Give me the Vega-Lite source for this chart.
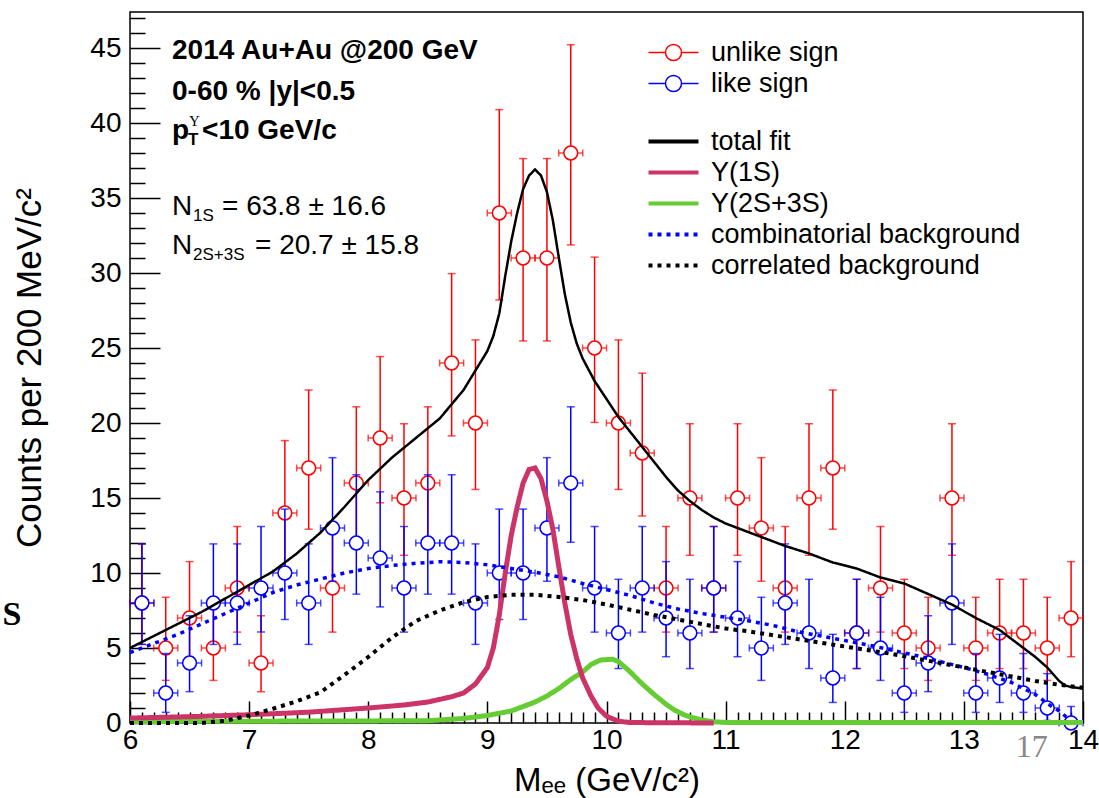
{
  "$schema": "https://vega.github.io/schema/vega-lite/v6.json",
  "width": 953,
  "height": 711,
  "autosize": {"type": "none"},
  "padding": {"left": 130, "top": 12, "right": 16, "bottom": 75},
  "background": "white",
  "config": {
    "view": {"stroke": "black", "strokeWidth": 1.5},
    "font": "Liberation Sans",
    "axis": {"grid": false, "domain": false, "tickColor": "black", "tickWidth": 1.5, "labelColor": "black", "titleColor": "black", "labelFont": "Liberation Sans", "titleFont": "Liberation Sans", "labelFontSize": 28, "titleFontWeight": "normal", "labelOverlap": false, "labelFlush": false, "labelBound": false},
    "legend": {"labelFont": "Liberation Sans", "labelFontSize": 27, "labelColor": "black", "symbolSize": 400, "padding": 0, "rowPadding": 3, "labelOffset": 24, "orient": "none", "labelLimit": 400}
  },
  "datasets": {
    "pts": [
      {"sign": "unlike sign", "m": 6.1, "n": 8, "lo": 5.24, "hi": 11.94},
      {"sign": "unlike sign", "m": 6.3, "n": 5, "lo": 2.84, "hi": 8.38},
      {"sign": "unlike sign", "m": 6.5, "n": 7, "lo": 4.42, "hi": 10.76},
      {"sign": "unlike sign", "m": 6.7, "n": 5, "lo": 2.84, "hi": 8.38},
      {"sign": "unlike sign", "m": 6.9, "n": 9, "lo": 6.06, "hi": 13.10},
      {"sign": "unlike sign", "m": 7.1, "n": 4, "lo": 2.09, "hi": 7.15},
      {"sign": "unlike sign", "m": 7.3, "n": 14, "lo": 10.31, "hi": 18.83},
      {"sign": "unlike sign", "m": 7.5, "n": 17, "lo": 12.92, "hi": 22.20},
      {"sign": "unlike sign", "m": 7.7, "n": 9, "lo": 6.06, "hi": 13.10},
      {"sign": "unlike sign", "m": 7.9, "n": 16, "lo": 12.05, "hi": 21.08},
      {"sign": "unlike sign", "m": 8.1, "n": 19, "lo": 14.68, "hi": 24.43},
      {"sign": "unlike sign", "m": 8.3, "n": 15, "lo": 11.18, "hi": 19.95},
      {"sign": "unlike sign", "m": 8.5, "n": 16, "lo": 12.05, "hi": 21.08},
      {"sign": "unlike sign", "m": 8.7, "n": 24, "lo": 19.14, "hi": 29.96},
      {"sign": "unlike sign", "m": 8.9, "n": 20, "lo": 15.57, "hi": 25.54},
      {"sign": "unlike sign", "m": 9.1, "n": 34, "lo": 28.20, "hi": 40.89},
      {"sign": "unlike sign", "m": 9.3, "n": 31, "lo": 25.47, "hi": 37.63},
      {"sign": "unlike sign", "m": 9.5, "n": 31, "lo": 25.47, "hi": 37.63},
      {"sign": "unlike sign", "m": 9.7, "n": 38, "lo": 31.87, "hi": 45.22},
      {"sign": "unlike sign", "m": 9.9, "n": 25, "lo": 20.04, "hi": 31.06},
      {"sign": "unlike sign", "m": 10.1, "n": 20, "lo": 15.57, "hi": 25.54},
      {"sign": "unlike sign", "m": 10.3, "n": 18, "lo": 13.80, "hi": 23.32},
      {"sign": "unlike sign", "m": 10.5, "n": 9, "lo": 6.06, "hi": 13.10},
      {"sign": "unlike sign", "m": 10.7, "n": 15, "lo": 11.18, "hi": 19.95},
      {"sign": "unlike sign", "m": 10.9, "n": 9, "lo": 6.06, "hi": 13.10},
      {"sign": "unlike sign", "m": 11.1, "n": 15, "lo": 11.18, "hi": 19.95},
      {"sign": "unlike sign", "m": 11.3, "n": 13, "lo": 9.45, "hi": 17.69},
      {"sign": "unlike sign", "m": 11.5, "n": 9, "lo": 6.06, "hi": 13.10},
      {"sign": "unlike sign", "m": 11.7, "n": 15, "lo": 11.18, "hi": 19.95},
      {"sign": "unlike sign", "m": 11.9, "n": 17, "lo": 12.92, "hi": 22.20},
      {"sign": "unlike sign", "m": 12.1, "n": 6, "lo": 3.63, "hi": 9.58},
      {"sign": "unlike sign", "m": 12.3, "n": 9, "lo": 6.06, "hi": 13.10},
      {"sign": "unlike sign", "m": 12.5, "n": 6, "lo": 3.63, "hi": 9.58},
      {"sign": "unlike sign", "m": 12.7, "n": 5, "lo": 2.84, "hi": 8.38},
      {"sign": "unlike sign", "m": 12.9, "n": 15, "lo": 11.18, "hi": 19.95},
      {"sign": "unlike sign", "m": 13.1, "n": 5, "lo": 2.84, "hi": 8.38},
      {"sign": "unlike sign", "m": 13.3, "n": 6, "lo": 3.63, "hi": 9.58},
      {"sign": "unlike sign", "m": 13.5, "n": 6, "lo": 3.63, "hi": 9.58},
      {"sign": "unlike sign", "m": 13.7, "n": 5, "lo": 2.84, "hi": 8.38},
      {"sign": "unlike sign", "m": 13.9, "n": 7, "lo": 4.42, "hi": 10.76},
      {"sign": "like sign", "m": 6.1, "n": 8, "lo": 5.24, "hi": 11.94},
      {"sign": "like sign", "m": 6.3, "n": 2, "lo": 0.71, "hi": 4.63},
      {"sign": "like sign", "m": 6.5, "n": 4, "lo": 2.09, "hi": 7.15},
      {"sign": "like sign", "m": 6.7, "n": 8, "lo": 5.24, "hi": 11.94},
      {"sign": "like sign", "m": 6.9, "n": 8, "lo": 5.24, "hi": 11.94},
      {"sign": "like sign", "m": 7.1, "n": 9, "lo": 6.06, "hi": 13.10},
      {"sign": "like sign", "m": 7.3, "n": 10, "lo": 6.90, "hi": 14.26},
      {"sign": "like sign", "m": 7.5, "n": 8, "lo": 5.24, "hi": 11.94},
      {"sign": "like sign", "m": 7.7, "n": 13, "lo": 9.45, "hi": 17.69},
      {"sign": "like sign", "m": 7.9, "n": 12, "lo": 8.59, "hi": 16.55},
      {"sign": "like sign", "m": 8.1, "n": 11, "lo": 7.74, "hi": 15.41},
      {"sign": "like sign", "m": 8.3, "n": 9, "lo": 6.06, "hi": 13.10},
      {"sign": "like sign", "m": 8.5, "n": 12, "lo": 8.59, "hi": 16.55},
      {"sign": "like sign", "m": 8.7, "n": 12, "lo": 8.59, "hi": 16.55},
      {"sign": "like sign", "m": 8.9, "n": 8, "lo": 5.24, "hi": 11.94},
      {"sign": "like sign", "m": 9.1, "n": 10, "lo": 6.90, "hi": 14.26},
      {"sign": "like sign", "m": 9.3, "n": 10, "lo": 6.90, "hi": 14.26},
      {"sign": "like sign", "m": 9.5, "n": 13, "lo": 9.45, "hi": 17.69},
      {"sign": "like sign", "m": 9.7, "n": 16, "lo": 12.05, "hi": 21.08},
      {"sign": "like sign", "m": 9.9, "n": 9, "lo": 6.06, "hi": 13.10},
      {"sign": "like sign", "m": 10.1, "n": 6, "lo": 3.63, "hi": 9.58},
      {"sign": "like sign", "m": 10.3, "n": 9, "lo": 6.06, "hi": 13.10},
      {"sign": "like sign", "m": 10.5, "n": 7, "lo": 4.42, "hi": 10.76},
      {"sign": "like sign", "m": 10.7, "n": 6, "lo": 3.63, "hi": 9.58},
      {"sign": "like sign", "m": 10.9, "n": 9, "lo": 6.06, "hi": 13.10},
      {"sign": "like sign", "m": 11.1, "n": 7, "lo": 4.42, "hi": 10.76},
      {"sign": "like sign", "m": 11.3, "n": 5, "lo": 2.84, "hi": 8.38},
      {"sign": "like sign", "m": 11.5, "n": 8, "lo": 5.24, "hi": 11.94},
      {"sign": "like sign", "m": 11.7, "n": 6, "lo": 3.63, "hi": 9.58},
      {"sign": "like sign", "m": 11.9, "n": 3, "lo": 1.37, "hi": 5.91},
      {"sign": "like sign", "m": 12.1, "n": 6, "lo": 3.63, "hi": 9.58},
      {"sign": "like sign", "m": 12.3, "n": 5, "lo": 2.84, "hi": 8.38},
      {"sign": "like sign", "m": 12.5, "n": 2, "lo": 0.71, "hi": 4.63},
      {"sign": "like sign", "m": 12.7, "n": 4, "lo": 2.09, "hi": 7.15},
      {"sign": "like sign", "m": 12.9, "n": 8, "lo": 5.24, "hi": 11.94},
      {"sign": "like sign", "m": 13.1, "n": 2, "lo": 0.71, "hi": 4.63},
      {"sign": "like sign", "m": 13.3, "n": 3, "lo": 1.37, "hi": 5.91},
      {"sign": "like sign", "m": 13.5, "n": 2, "lo": 0.71, "hi": 4.63},
      {"sign": "like sign", "m": 13.7, "n": 1, "lo": 0.17, "hi": 3.29},
      {"sign": "like sign", "m": 13.9, "n": 0, "lo": 0, "hi": 1.1}
    ],
    "curves": [
      {"curve": "total fit", "m": 6.0, "n": 5.0}, {"curve": "total fit", "m": 6.2, "n": 5.8}, {"curve": "total fit", "m": 6.4, "n": 6.6}, {"curve": "total fit", "m": 6.6, "n": 7.4}, {"curve": "total fit", "m": 6.8, "n": 8.3}, {"curve": "total fit", "m": 7.0, "n": 9.2}, {"curve": "total fit", "m": 7.2, "n": 10.1}, {"curve": "total fit", "m": 7.4, "n": 11.3}, {"curve": "total fit", "m": 7.6, "n": 12.7}, {"curve": "total fit", "m": 7.8, "n": 14.4}, {"curve": "total fit", "m": 8.0, "n": 16.2}, {"curve": "total fit", "m": 8.2, "n": 17.7}, {"curve": "total fit", "m": 8.4, "n": 19.0}, {"curve": "total fit", "m": 8.6, "n": 20.3}, {"curve": "total fit", "m": 8.8, "n": 22.2}, {"curve": "total fit", "m": 8.9, "n": 23.5}, {"curve": "total fit", "m": 9.0, "n": 24.8}, {"curve": "total fit", "m": 9.05, "n": 25.8}, {"curve": "total fit", "m": 9.1, "n": 27.3}, {"curve": "total fit", "m": 9.15, "n": 29.8}, {"curve": "total fit", "m": 9.2, "n": 32.1}, {"curve": "total fit", "m": 9.25, "n": 34.0}, {"curve": "total fit", "m": 9.3, "n": 35.6}, {"curve": "total fit", "m": 9.35, "n": 36.5}, {"curve": "total fit", "m": 9.4, "n": 36.9}, {"curve": "total fit", "m": 9.45, "n": 36.5}, {"curve": "total fit", "m": 9.5, "n": 35.4}, {"curve": "total fit", "m": 9.55, "n": 33.5}, {"curve": "total fit", "m": 9.6, "n": 31.0}, {"curve": "total fit", "m": 9.65, "n": 28.6}, {"curve": "total fit", "m": 9.7, "n": 26.7}, {"curve": "total fit", "m": 9.75, "n": 25.3}, {"curve": "total fit", "m": 9.8, "n": 24.3}, {"curve": "total fit", "m": 9.9, "n": 22.8}, {"curve": "total fit", "m": 10.0, "n": 21.6}, {"curve": "total fit", "m": 10.1, "n": 20.4}, {"curve": "total fit", "m": 10.2, "n": 19.4}, {"curve": "total fit", "m": 10.3, "n": 18.4}, {"curve": "total fit", "m": 10.4, "n": 17.4}, {"curve": "total fit", "m": 10.5, "n": 16.4}, {"curve": "total fit", "m": 10.6, "n": 15.5}, {"curve": "total fit", "m": 10.7, "n": 14.8}, {"curve": "total fit", "m": 10.8, "n": 14.2}, {"curve": "total fit", "m": 10.9, "n": 13.7}, {"curve": "total fit", "m": 11.0, "n": 13.3}, {"curve": "total fit", "m": 11.1, "n": 13.0}, {"curve": "total fit", "m": 11.3, "n": 12.4}, {"curve": "total fit", "m": 11.5, "n": 11.8}, {"curve": "total fit", "m": 11.7, "n": 11.3}, {"curve": "total fit", "m": 11.9, "n": 10.7}, {"curve": "total fit", "m": 12.1, "n": 10.3}, {"curve": "total fit", "m": 12.3, "n": 9.7}, {"curve": "total fit", "m": 12.5, "n": 9.3}, {"curve": "total fit", "m": 12.7, "n": 8.6}, {"curve": "total fit", "m": 12.9, "n": 7.9}, {"curve": "total fit", "m": 13.1, "n": 7.0}, {"curve": "total fit", "m": 13.3, "n": 6.2}, {"curve": "total fit", "m": 13.5, "n": 5.0}, {"curve": "total fit", "m": 13.6, "n": 4.4}, {"curve": "total fit", "m": 13.7, "n": 3.7}, {"curve": "total fit", "m": 13.8, "n": 2.8}, {"curve": "total fit", "m": 13.85, "n": 2.5}, {"curve": "total fit", "m": 13.9, "n": 2.4}, {"curve": "total fit", "m": 14.0, "n": 2.3},
      {"curve": "Υ(1S)", "m": 6.0, "n": 0.33}, {"curve": "Υ(1S)", "m": 6.5, "n": 0.42}, {"curve": "Υ(1S)", "m": 7.0, "n": 0.55}, {"curve": "Υ(1S)", "m": 7.5, "n": 0.72}, {"curve": "Υ(1S)", "m": 8.0, "n": 1.0}, {"curve": "Υ(1S)", "m": 8.3, "n": 1.2}, {"curve": "Υ(1S)", "m": 8.5, "n": 1.4}, {"curve": "Υ(1S)", "m": 8.7, "n": 1.75}, {"curve": "Υ(1S)", "m": 8.8, "n": 2.0}, {"curve": "Υ(1S)", "m": 8.9, "n": 2.6}, {"curve": "Υ(1S)", "m": 9.0, "n": 3.7}, {"curve": "Υ(1S)", "m": 9.05, "n": 5.0}, {"curve": "Υ(1S)", "m": 9.1, "n": 7.2}, {"curve": "Υ(1S)", "m": 9.15, "n": 10.0}, {"curve": "Υ(1S)", "m": 9.2, "n": 12.5}, {"curve": "Υ(1S)", "m": 9.25, "n": 14.4}, {"curve": "Υ(1S)", "m": 9.3, "n": 16.0}, {"curve": "Υ(1S)", "m": 9.35, "n": 16.9}, {"curve": "Υ(1S)", "m": 9.4, "n": 17.0}, {"curve": "Υ(1S)", "m": 9.45, "n": 16.3}, {"curve": "Υ(1S)", "m": 9.5, "n": 14.8}, {"curve": "Υ(1S)", "m": 9.55, "n": 12.9}, {"curve": "Υ(1S)", "m": 9.6, "n": 10.4}, {"curve": "Υ(1S)", "m": 9.65, "n": 8.0}, {"curve": "Υ(1S)", "m": 9.7, "n": 5.9}, {"curve": "Υ(1S)", "m": 9.75, "n": 4.3}, {"curve": "Υ(1S)", "m": 9.8, "n": 3.0}, {"curve": "Υ(1S)", "m": 9.87, "n": 1.8}, {"curve": "Υ(1S)", "m": 9.93, "n": 1.0}, {"curve": "Υ(1S)", "m": 10.0, "n": 0.45}, {"curve": "Υ(1S)", "m": 10.1, "n": 0.12}, {"curve": "Υ(1S)", "m": 10.2, "n": 0.03}, {"curve": "Υ(1S)", "m": 10.9, "n": 0.0},
      {"curve": "Υ(2S+3S)", "m": 6.0, "n": 0.1}, {"curve": "Υ(2S+3S)", "m": 8.5, "n": 0.15}, {"curve": "Υ(2S+3S)", "m": 8.8, "n": 0.3}, {"curve": "Υ(2S+3S)", "m": 9.0, "n": 0.5}, {"curve": "Υ(2S+3S)", "m": 9.2, "n": 0.8}, {"curve": "Υ(2S+3S)", "m": 9.4, "n": 1.4}, {"curve": "Υ(2S+3S)", "m": 9.5, "n": 1.8}, {"curve": "Υ(2S+3S)", "m": 9.6, "n": 2.3}, {"curve": "Υ(2S+3S)", "m": 9.7, "n": 2.9}, {"curve": "Υ(2S+3S)", "m": 9.8, "n": 3.4}, {"curve": "Υ(2S+3S)", "m": 9.87, "n": 3.9}, {"curve": "Υ(2S+3S)", "m": 9.95, "n": 4.2}, {"curve": "Υ(2S+3S)", "m": 10.05, "n": 4.25}, {"curve": "Υ(2S+3S)", "m": 10.1, "n": 4.1}, {"curve": "Υ(2S+3S)", "m": 10.15, "n": 3.75}, {"curve": "Υ(2S+3S)", "m": 10.2, "n": 3.4}, {"curve": "Υ(2S+3S)", "m": 10.3, "n": 2.6}, {"curve": "Υ(2S+3S)", "m": 10.4, "n": 1.9}, {"curve": "Υ(2S+3S)", "m": 10.5, "n": 1.25}, {"curve": "Υ(2S+3S)", "m": 10.57, "n": 0.87}, {"curve": "Υ(2S+3S)", "m": 10.65, "n": 0.55}, {"curve": "Υ(2S+3S)", "m": 10.71, "n": 0.38}, {"curve": "Υ(2S+3S)", "m": 10.8, "n": 0.2}, {"curve": "Υ(2S+3S)", "m": 10.9, "n": 0.08}, {"curve": "Υ(2S+3S)", "m": 11.0, "n": 0.04}, {"curve": "Υ(2S+3S)", "m": 14.0, "n": 0.04},
      {"curve": "combinatorial background", "m": 6.0, "n": 4.7}, {"curve": "combinatorial background", "m": 6.2, "n": 5.3}, {"curve": "combinatorial background", "m": 6.4, "n": 5.9}, {"curve": "combinatorial background", "m": 6.6, "n": 6.6}, {"curve": "combinatorial background", "m": 6.8, "n": 7.3}, {"curve": "combinatorial background", "m": 7.0, "n": 8.0}, {"curve": "combinatorial background", "m": 7.2, "n": 8.7}, {"curve": "combinatorial background", "m": 7.4, "n": 9.2}, {"curve": "combinatorial background", "m": 7.6, "n": 9.6}, {"curve": "combinatorial background", "m": 7.8, "n": 10.0}, {"curve": "combinatorial background", "m": 8.0, "n": 10.3}, {"curve": "combinatorial background", "m": 8.2, "n": 10.5}, {"curve": "combinatorial background", "m": 8.4, "n": 10.65}, {"curve": "combinatorial background", "m": 8.6, "n": 10.75}, {"curve": "combinatorial background", "m": 8.8, "n": 10.7}, {"curve": "combinatorial background", "m": 9.0, "n": 10.55}, {"curve": "combinatorial background", "m": 9.2, "n": 10.3}, {"curve": "combinatorial background", "m": 9.4, "n": 10.05}, {"curve": "combinatorial background", "m": 9.6, "n": 9.75}, {"curve": "combinatorial background", "m": 9.8, "n": 9.3}, {"curve": "combinatorial background", "m": 10.0, "n": 8.9}, {"curve": "combinatorial background", "m": 10.2, "n": 8.5}, {"curve": "combinatorial background", "m": 10.4, "n": 8.0}, {"curve": "combinatorial background", "m": 10.6, "n": 7.6}, {"curve": "combinatorial background", "m": 10.8, "n": 7.3}, {"curve": "combinatorial background", "m": 11.0, "n": 7.05}, {"curve": "combinatorial background", "m": 11.2, "n": 6.8}, {"curve": "combinatorial background", "m": 11.4, "n": 6.5}, {"curve": "combinatorial background", "m": 11.6, "n": 6.1}, {"curve": "combinatorial background", "m": 11.8, "n": 5.8}, {"curve": "combinatorial background", "m": 12.0, "n": 5.5}, {"curve": "combinatorial background", "m": 12.2, "n": 5.2}, {"curve": "combinatorial background", "m": 12.4, "n": 4.85}, {"curve": "combinatorial background", "m": 12.6, "n": 4.5}, {"curve": "combinatorial background", "m": 12.8, "n": 4.1}, {"curve": "combinatorial background", "m": 13.0, "n": 3.7}, {"curve": "combinatorial background", "m": 13.2, "n": 3.25}, {"curve": "combinatorial background", "m": 13.4, "n": 2.7}, {"curve": "combinatorial background", "m": 13.6, "n": 1.9}, {"curve": "combinatorial background", "m": 13.7, "n": 1.3}, {"curve": "combinatorial background", "m": 13.8, "n": 0.8}, {"curve": "combinatorial background", "m": 13.86, "n": 0.4},
      {"curve": "correlated background", "m": 6.0, "n": 0.0}, {"curve": "correlated background", "m": 6.6, "n": 0.0}, {"curve": "correlated background", "m": 6.8, "n": 0.15}, {"curve": "correlated background", "m": 7.0, "n": 0.5}, {"curve": "correlated background", "m": 7.2, "n": 0.95}, {"curve": "correlated background", "m": 7.4, "n": 1.45}, {"curve": "correlated background", "m": 7.6, "n": 2.05}, {"curve": "correlated background", "m": 7.8, "n": 3.2}, {"curve": "correlated background", "m": 8.0, "n": 4.4}, {"curve": "correlated background", "m": 8.2, "n": 5.7}, {"curve": "correlated background", "m": 8.4, "n": 6.8}, {"curve": "correlated background", "m": 8.6, "n": 7.5}, {"curve": "correlated background", "m": 8.8, "n": 8.05}, {"curve": "correlated background", "m": 9.0, "n": 8.4}, {"curve": "correlated background", "m": 9.2, "n": 8.55}, {"curve": "correlated background", "m": 9.4, "n": 8.55}, {"curve": "correlated background", "m": 9.6, "n": 8.4}, {"curve": "correlated background", "m": 9.8, "n": 8.2}, {"curve": "correlated background", "m": 10.0, "n": 7.9}, {"curve": "correlated background", "m": 10.2, "n": 7.55}, {"curve": "correlated background", "m": 10.4, "n": 7.2}, {"curve": "correlated background", "m": 10.6, "n": 6.9}, {"curve": "correlated background", "m": 10.8, "n": 6.6}, {"curve": "correlated background", "m": 11.0, "n": 6.3}, {"curve": "correlated background", "m": 11.2, "n": 6.1}, {"curve": "correlated background", "m": 11.4, "n": 5.85}, {"curve": "correlated background", "m": 11.6, "n": 5.6}, {"curve": "correlated background", "m": 11.8, "n": 5.35}, {"curve": "correlated background", "m": 12.0, "n": 5.1}, {"curve": "correlated background", "m": 12.2, "n": 4.85}, {"curve": "correlated background", "m": 12.4, "n": 4.6}, {"curve": "correlated background", "m": 12.6, "n": 4.3}, {"curve": "correlated background", "m": 12.8, "n": 4.0}, {"curve": "correlated background", "m": 13.0, "n": 3.7}, {"curve": "correlated background", "m": 13.2, "n": 3.4}, {"curve": "correlated background", "m": 13.4, "n": 3.1}, {"curve": "correlated background", "m": 13.6, "n": 2.8}, {"curve": "correlated background", "m": 13.8, "n": 2.55}, {"curve": "correlated background", "m": 14.0, "n": 2.35}
    ],
    "one": [{"k": 1}]
  },
  "layer": [
    {
      "encoding": {
        "x": {"field": "m", "type": "quantitative", "scale": {"domain": [6, 14], "nice": false, "zero": false},
          "axis": {"values": [6,6.1,6.2,6.3,6.4,6.5,6.6,6.7,6.8,6.9,7,7.1,7.2,7.3,7.4,7.5,7.6,7.7,7.8,7.9,8,8.1,8.2,8.3,8.4,8.5,8.6,8.7,8.8,8.9,9,9.1,9.2,9.3,9.4,9.5,9.6,9.7,9.8,9.9,10,10.1,10.2,10.3,10.4,10.5,10.6,10.7,10.8,10.9,11,11.1,11.2,11.3,11.4,11.5,11.6,11.7,11.8,11.9,12,12.1,12.2,12.3,12.4,12.5,12.6,12.7,12.8,12.9,13,13.1,13.2,13.3,13.4,13.5,13.6,13.7,13.8,13.9,14], "tickSize": {"condition": {"test": "abs(datum.value - round(datum.value)) < 0.001", "value": -22}, "value": -11}, "labelExpr": "abs(datum.value - round(datum.value)) < 0.001 ? '' + round(datum.value) : ''", "labelPadding": 25, "title": "Mₑₑ (GeV/c²)", "titleFontSize": 33, "titleY": 67, "titleBaseline": "alphabetic"}},
        "y": {"field": "n", "type": "quantitative", "scale": {"domain": [0, 47.4], "nice": false, "zero": false},
          "axis": {"values": [0,1,2,3,4,5,6,7,8,9,10,11,12,13,14,15,16,17,18,19,20,21,22,23,24,25,26,27,28,29,30,31,32,33,34,35,36,37,38,39,40,41,42,43,44,45,46,47], "tickSize": {"condition": {"test": "round(datum.value / 5) * 5 === datum.value", "value": -30}, "value": -15}, "labelExpr": "round(datum.value / 5) * 5 === datum.value ? '' + datum.value : ''", "labelPadding": 39, "title": "Counts per 200 MeV/c²", "titleFontSize": 35, "titleX": -90, "titleBaseline": "alphabetic"}}
      },
      "layer": [
        {"data": {"name": "pts"}, "transform": [{"filter": "datum.sign === 'unlike sign'"}],
         "mark": {"type": "rule", "color": "#ff0000", "strokeWidth": 1.5},
         "encoding": {"y": {"field": "lo", "type": "quantitative", "scale": {"domain": [0, 47.4], "nice": false, "zero": false},
          "axis": {"values": [0,1,2,3,4,5,6,7,8,9,10,11,12,13,14,15,16,17,18,19,20,21,22,23,24,25,26,27,28,29,30,31,32,33,34,35,36,37,38,39,40,41,42,43,44,45,46,47], "tickSize": {"condition": {"test": "round(datum.value / 5) * 5 === datum.value", "value": -30}, "value": -15}, "labelExpr": "round(datum.value / 5) * 5 === datum.value ? '' + datum.value : ''", "labelPadding": 39, "title": "Counts per 200 MeV/c²", "titleFontSize": 35, "titleX": -90, "titleBaseline": "alphabetic"}}, "y2": {"field": "hi"}}},
        {"data": {"name": "pts"}, "transform": [{"filter": "datum.sign === 'unlike sign'"}, {"fold": ["lo", "hi"], "as": ["k", "n"]}],
         "mark": {"type": "tick", "orient": "horizontal", "color": "#ff0000", "size": 8, "thickness": 1.5}},
        {"data": {"name": "pts"}, "transform": [{"filter": "datum.sign === 'unlike sign'"}],
         "mark": {"type": "tick", "orient": "horizontal", "color": "#ff0000", "size": 24, "thickness": 1.5}},
        {"data": {"name": "pts"}, "transform": [{"filter": "datum.sign === 'unlike sign'"}],
         "mark": {"type": "tick", "orient": "vertical", "color": "#ff0000", "size": 7, "thickness": 1.5, "xOffset": -12}},
        {"data": {"name": "pts"}, "transform": [{"filter": "datum.sign === 'unlike sign'"}],
         "mark": {"type": "tick", "orient": "vertical", "color": "#ff0000", "size": 7, "thickness": 1.5, "xOffset": 12}},
        {"data": {"name": "pts"}, "transform": [{"filter": "datum.sign === 'unlike sign'"}],
         "mark": {"type": "point", "shape": "circle", "filled": true, "fill": "white", "strokeWidth": 1.5, "size": 190, "opacity": 1},
         "encoding": {"stroke": {"field": "sign", "type": "nominal", "scale": {"domain": ["unlike sign", "like sign"], "range": ["#ff0000", "#0000ff"]},
           "legend": {"title": null, "legendX": 530, "legendY": 27, "symbolType": "M-2.5,0L-0.8,0M0.8,0L2.5,0M0.8,0A0.8,0.8,0,1,1,-0.8,0A0.8,0.8,0,1,1,0.8,0", "symbolStrokeWidth": 1.5, "symbolFillColor": "transparent"}}}},
        {"data": {"name": "pts"}, "transform": [{"filter": "datum.sign === 'like sign'"}],
         "mark": {"type": "rule", "color": "#0000ff", "strokeWidth": 1.5},
         "encoding": {"y": {"field": "lo", "type": "quantitative", "scale": {"domain": [0, 47.4], "nice": false, "zero": false},
          "axis": {"values": [0,1,2,3,4,5,6,7,8,9,10,11,12,13,14,15,16,17,18,19,20,21,22,23,24,25,26,27,28,29,30,31,32,33,34,35,36,37,38,39,40,41,42,43,44,45,46,47], "tickSize": {"condition": {"test": "round(datum.value / 5) * 5 === datum.value", "value": -30}, "value": -15}, "labelExpr": "round(datum.value / 5) * 5 === datum.value ? '' + datum.value : ''", "labelPadding": 39, "title": "Counts per 200 MeV/c²", "titleFontSize": 35, "titleX": -90, "titleBaseline": "alphabetic"}}, "y2": {"field": "hi"}}},
        {"data": {"name": "pts"}, "transform": [{"filter": "datum.sign === 'like sign'"}, {"fold": ["lo", "hi"], "as": ["k", "n"]}],
         "mark": {"type": "tick", "orient": "horizontal", "color": "#0000ff", "size": 8, "thickness": 1.5}},
        {"data": {"name": "pts"}, "transform": [{"filter": "datum.sign === 'like sign'"}],
         "mark": {"type": "tick", "orient": "horizontal", "color": "#0000ff", "size": 24, "thickness": 1.5}},
        {"data": {"name": "pts"}, "transform": [{"filter": "datum.sign === 'like sign'"}],
         "mark": {"type": "tick", "orient": "vertical", "color": "#0000ff", "size": 7, "thickness": 1.5, "xOffset": -12}},
        {"data": {"name": "pts"}, "transform": [{"filter": "datum.sign === 'like sign'"}],
         "mark": {"type": "tick", "orient": "vertical", "color": "#0000ff", "size": 7, "thickness": 1.5, "xOffset": 12}},
        {"data": {"name": "pts"}, "transform": [{"filter": "datum.sign === 'like sign'"}],
         "mark": {"type": "point", "shape": "circle", "filled": true, "fill": "white", "strokeWidth": 1.5, "size": 190, "opacity": 1},
         "encoding": {"stroke": {"field": "sign", "type": "nominal", "scale": {"domain": ["unlike sign", "like sign"], "range": ["#ff0000", "#0000ff"]},
           "legend": {"title": null, "legendX": 530, "legendY": 27, "symbolType": "M-2.5,0L-0.8,0M0.8,0L2.5,0M0.8,0A0.8,0.8,0,1,1,-0.8,0A0.8,0.8,0,1,1,0.8,0", "symbolStrokeWidth": 1.5, "symbolFillColor": "transparent"}}}},
        {"data": {"name": "curves"}, "transform": [{"filter": "datum.curve === 'Υ(2S+3S)'"}],
         "mark": {"type": "line", "strokeWidth": 5},
         "encoding": {
           "color": {"field": "curve", "type": "nominal", "scale": {"domain": ["total fit", "Υ(1S)", "Υ(2S+3S)", "combinatorial background", "correlated background"], "range": ["#000000", "#cc3366", "#66cc33", "#0000ff", "#000000"]}, "legend": {"title": null, "legendX": 530, "legendY": 116, "symbolType": "M-2.5,0L2.5,0", "symbolStrokeWidth": 4}},
           "strokeDash": {"field": "curve", "type": "nominal", "scale": {"domain": ["total fit", "Υ(1S)", "Υ(2S+3S)", "combinatorial background", "correlated background"], "range": [[1,0],[1,0],[1,0],[4,5],[4,5]]}, "legend": {"title": null, "legendX": 530, "legendY": 116, "symbolType": "M-2.5,0L2.5,0", "symbolStrokeWidth": 4}}}},
        {"data": {"name": "curves"}, "transform": [{"filter": "datum.curve === 'Υ(1S)'"}],
         "mark": {"type": "line", "strokeWidth": 5},
         "encoding": {
           "color": {"field": "curve", "type": "nominal", "scale": {"domain": ["total fit", "Υ(1S)", "Υ(2S+3S)", "combinatorial background", "correlated background"], "range": ["#000000", "#cc3366", "#66cc33", "#0000ff", "#000000"]}, "legend": {"title": null, "legendX": 530, "legendY": 116, "symbolType": "M-2.5,0L2.5,0", "symbolStrokeWidth": 4}},
           "strokeDash": {"field": "curve", "type": "nominal", "scale": {"domain": ["total fit", "Υ(1S)", "Υ(2S+3S)", "combinatorial background", "correlated background"], "range": [[1,0],[1,0],[1,0],[4,5],[4,5]]}, "legend": {"title": null, "legendX": 530, "legendY": 116, "symbolType": "M-2.5,0L2.5,0", "symbolStrokeWidth": 4}}}},
        {"data": {"name": "curves"}, "transform": [{"filter": "datum.curve === 'combinatorial background'"}],
         "mark": {"type": "line", "strokeWidth": 3.5},
         "encoding": {
           "color": {"field": "curve", "type": "nominal", "scale": {"domain": ["total fit", "Υ(1S)", "Υ(2S+3S)", "combinatorial background", "correlated background"], "range": ["#000000", "#cc3366", "#66cc33", "#0000ff", "#000000"]}, "legend": {"title": null, "legendX": 530, "legendY": 116, "symbolType": "M-2.5,0L2.5,0", "symbolStrokeWidth": 4}},
           "strokeDash": {"field": "curve", "type": "nominal", "scale": {"domain": ["total fit", "Υ(1S)", "Υ(2S+3S)", "combinatorial background", "correlated background"], "range": [[1,0],[1,0],[1,0],[4,5],[4,5]]}, "legend": {"title": null, "legendX": 530, "legendY": 116, "symbolType": "M-2.5,0L2.5,0", "symbolStrokeWidth": 4}}}},
        {"data": {"name": "curves"}, "transform": [{"filter": "datum.curve === 'correlated background'"}],
         "mark": {"type": "line", "strokeWidth": 4},
         "encoding": {
           "color": {"field": "curve", "type": "nominal", "scale": {"domain": ["total fit", "Υ(1S)", "Υ(2S+3S)", "combinatorial background", "correlated background"], "range": ["#000000", "#cc3366", "#66cc33", "#0000ff", "#000000"]}, "legend": {"title": null, "legendX": 530, "legendY": 116, "symbolType": "M-2.5,0L2.5,0", "symbolStrokeWidth": 4}},
           "strokeDash": {"field": "curve", "type": "nominal", "scale": {"domain": ["total fit", "Υ(1S)", "Υ(2S+3S)", "combinatorial background", "correlated background"], "range": [[1,0],[1,0],[1,0],[4,5],[4,5]]}, "legend": {"title": null, "legendX": 530, "legendY": 116, "symbolType": "M-2.5,0L2.5,0", "symbolStrokeWidth": 4}}}},
        {"data": {"name": "curves"}, "transform": [{"filter": "datum.curve === 'total fit'"}],
         "mark": {"type": "line", "strokeWidth": 2.5},
         "encoding": {
           "color": {"field": "curve", "type": "nominal", "scale": {"domain": ["total fit", "Υ(1S)", "Υ(2S+3S)", "combinatorial background", "correlated background"], "range": ["#000000", "#cc3366", "#66cc33", "#0000ff", "#000000"]}, "legend": {"title": null, "legendX": 530, "legendY": 116, "symbolType": "M-2.5,0L2.5,0", "symbolStrokeWidth": 4}},
           "strokeDash": {"field": "curve", "type": "nominal", "scale": {"domain": ["total fit", "Υ(1S)", "Υ(2S+3S)", "combinatorial background", "correlated background"], "range": [[1,0],[1,0],[1,0],[4,5],[4,5]]}, "legend": {"title": null, "legendX": 530, "legendY": 116, "symbolType": "M-2.5,0L2.5,0", "symbolStrokeWidth": 4}}}}
      ]
    },
    {
      "data": {"name": "one"},
      "layer": [
        {"mark": {"type": "text", "text": "2014 Au+Au @200 GeV", "font": "Liberation Sans", "fontWeight": "bold", "fontSize": 28, "align": "left", "baseline": "middle"},
         "encoding": {"x": {"datum": 6.353, "type": "quantitative", "scale": {"domain": [6, 14], "nice": false, "zero": false}, "axis": {"values": [6,6.1,6.2,6.3,6.4,6.5,6.6,6.7,6.8,6.9,7,7.1,7.2,7.3,7.4,7.5,7.6,7.7,7.8,7.9,8,8.1,8.2,8.3,8.4,8.5,8.6,8.7,8.8,8.9,9,9.1,9.2,9.3,9.4,9.5,9.6,9.7,9.8,9.9,10,10.1,10.2,10.3,10.4,10.5,10.6,10.7,10.8,10.9,11,11.1,11.2,11.3,11.4,11.5,11.6,11.7,11.8,11.9,12,12.1,12.2,12.3,12.4,12.5,12.6,12.7,12.8,12.9,13,13.1,13.2,13.3,13.4,13.5,13.6,13.7,13.8,13.9,14], "tickSize": {"condition": {"test": "abs(datum.value - round(datum.value)) < 0.001", "value": -22}, "value": -11}, "labelExpr": "abs(datum.value - round(datum.value)) < 0.001 ? '' + round(datum.value) : ''", "labelPadding": 25, "title": "Mₑₑ (GeV/c²)", "titleFontSize": 33, "titleY": 67, "titleBaseline": "alphabetic"}},
           "y": {"datum": 44.8, "type": "quantitative", "scale": {"domain": [0, 47.4], "nice": false, "zero": false}, "axis": {"values": [0,1,2,3,4,5,6,7,8,9,10,11,12,13,14,15,16,17,18,19,20,21,22,23,24,25,26,27,28,29,30,31,32,33,34,35,36,37,38,39,40,41,42,43,44,45,46,47], "tickSize": {"condition": {"test": "round(datum.value / 5) * 5 === datum.value", "value": -30}, "value": -15}, "labelExpr": "round(datum.value / 5) * 5 === datum.value ? '' + datum.value : ''", "labelPadding": 39, "title": "Counts per 200 MeV/c²", "titleFontSize": 35, "titleX": -90, "titleBaseline": "alphabetic"}}}},
        {"mark": {"type": "text", "text": "0-60 % |y|<0.5", "font": "Liberation Sans", "fontWeight": "bold", "fontSize": 28, "align": "left", "baseline": "middle"},
         "encoding": {"x": {"datum": 6.353, "type": "quantitative", "scale": {"domain": [6, 14], "nice": false, "zero": false}, "axis": {"values": [6,6.1,6.2,6.3,6.4,6.5,6.6,6.7,6.8,6.9,7,7.1,7.2,7.3,7.4,7.5,7.6,7.7,7.8,7.9,8,8.1,8.2,8.3,8.4,8.5,8.6,8.7,8.8,8.9,9,9.1,9.2,9.3,9.4,9.5,9.6,9.7,9.8,9.9,10,10.1,10.2,10.3,10.4,10.5,10.6,10.7,10.8,10.9,11,11.1,11.2,11.3,11.4,11.5,11.6,11.7,11.8,11.9,12,12.1,12.2,12.3,12.4,12.5,12.6,12.7,12.8,12.9,13,13.1,13.2,13.3,13.4,13.5,13.6,13.7,13.8,13.9,14], "tickSize": {"condition": {"test": "abs(datum.value - round(datum.value)) < 0.001", "value": -22}, "value": -11}, "labelExpr": "abs(datum.value - round(datum.value)) < 0.001 ? '' + round(datum.value) : ''", "labelPadding": 25, "title": "Mₑₑ (GeV/c²)", "titleFontSize": 33, "titleY": 67, "titleBaseline": "alphabetic"}},
           "y": {"datum": 42.1, "type": "quantitative", "scale": {"domain": [0, 47.4], "nice": false, "zero": false}, "axis": {"values": [0,1,2,3,4,5,6,7,8,9,10,11,12,13,14,15,16,17,18,19,20,21,22,23,24,25,26,27,28,29,30,31,32,33,34,35,36,37,38,39,40,41,42,43,44,45,46,47], "tickSize": {"condition": {"test": "round(datum.value / 5) * 5 === datum.value", "value": -30}, "value": -15}, "labelExpr": "round(datum.value / 5) * 5 === datum.value ? '' + datum.value : ''", "labelPadding": 39, "title": "Counts per 200 MeV/c²", "titleFontSize": 35, "titleX": -90, "titleBaseline": "alphabetic"}}}},
        {"mark": {"type": "text", "text": "p", "font": "Liberation Sans", "fontWeight": "bold", "fontSize": 28, "align": "left", "baseline": "middle"},
         "encoding": {"x": {"datum": 6.353, "type": "quantitative", "scale": {"domain": [6, 14], "nice": false, "zero": false}, "axis": {"values": [6,6.1,6.2,6.3,6.4,6.5,6.6,6.7,6.8,6.9,7,7.1,7.2,7.3,7.4,7.5,7.6,7.7,7.8,7.9,8,8.1,8.2,8.3,8.4,8.5,8.6,8.7,8.8,8.9,9,9.1,9.2,9.3,9.4,9.5,9.6,9.7,9.8,9.9,10,10.1,10.2,10.3,10.4,10.5,10.6,10.7,10.8,10.9,11,11.1,11.2,11.3,11.4,11.5,11.6,11.7,11.8,11.9,12,12.1,12.2,12.3,12.4,12.5,12.6,12.7,12.8,12.9,13,13.1,13.2,13.3,13.4,13.5,13.6,13.7,13.8,13.9,14], "tickSize": {"condition": {"test": "abs(datum.value - round(datum.value)) < 0.001", "value": -22}, "value": -11}, "labelExpr": "abs(datum.value - round(datum.value)) < 0.001 ? '' + round(datum.value) : ''", "labelPadding": 25, "title": "Mₑₑ (GeV/c²)", "titleFontSize": 33, "titleY": 67, "titleBaseline": "alphabetic"}},
           "y": {"datum": 39.5, "type": "quantitative", "scale": {"domain": [0, 47.4], "nice": false, "zero": false}, "axis": {"values": [0,1,2,3,4,5,6,7,8,9,10,11,12,13,14,15,16,17,18,19,20,21,22,23,24,25,26,27,28,29,30,31,32,33,34,35,36,37,38,39,40,41,42,43,44,45,46,47], "tickSize": {"condition": {"test": "round(datum.value / 5) * 5 === datum.value", "value": -30}, "value": -15}, "labelExpr": "round(datum.value / 5) * 5 === datum.value ? '' + datum.value : ''", "labelPadding": 39, "title": "Counts per 200 MeV/c²", "titleFontSize": 35, "titleX": -90, "titleBaseline": "alphabetic"}}}},
        {"mark": {"type": "text", "text": "T", "font": "Liberation Sans", "fontWeight": "bold", "fontSize": 17, "align": "left", "baseline": "middle", "dx": 16, "dy": 9},
         "encoding": {"x": {"datum": 6.353, "type": "quantitative", "scale": {"domain": [6, 14], "nice": false, "zero": false}, "axis": {"values": [6,6.1,6.2,6.3,6.4,6.5,6.6,6.7,6.8,6.9,7,7.1,7.2,7.3,7.4,7.5,7.6,7.7,7.8,7.9,8,8.1,8.2,8.3,8.4,8.5,8.6,8.7,8.8,8.9,9,9.1,9.2,9.3,9.4,9.5,9.6,9.7,9.8,9.9,10,10.1,10.2,10.3,10.4,10.5,10.6,10.7,10.8,10.9,11,11.1,11.2,11.3,11.4,11.5,11.6,11.7,11.8,11.9,12,12.1,12.2,12.3,12.4,12.5,12.6,12.7,12.8,12.9,13,13.1,13.2,13.3,13.4,13.5,13.6,13.7,13.8,13.9,14], "tickSize": {"condition": {"test": "abs(datum.value - round(datum.value)) < 0.001", "value": -22}, "value": -11}, "labelExpr": "abs(datum.value - round(datum.value)) < 0.001 ? '' + round(datum.value) : ''", "labelPadding": 25, "title": "Mₑₑ (GeV/c²)", "titleFontSize": 33, "titleY": 67, "titleBaseline": "alphabetic"}},
           "y": {"datum": 39.5, "type": "quantitative", "scale": {"domain": [0, 47.4], "nice": false, "zero": false}, "axis": {"values": [0,1,2,3,4,5,6,7,8,9,10,11,12,13,14,15,16,17,18,19,20,21,22,23,24,25,26,27,28,29,30,31,32,33,34,35,36,37,38,39,40,41,42,43,44,45,46,47], "tickSize": {"condition": {"test": "round(datum.value / 5) * 5 === datum.value", "value": -30}, "value": -15}, "labelExpr": "round(datum.value / 5) * 5 === datum.value ? '' + datum.value : ''", "labelPadding": 39, "title": "Counts per 200 MeV/c²", "titleFontSize": 35, "titleX": -90, "titleBaseline": "alphabetic"}}}},
        {"mark": {"type": "text", "text": "Υ", "font": "Liberation Serif", "fontSize": 15, "align": "left", "baseline": "middle", "dx": 17, "dy": -10},
         "encoding": {"x": {"datum": 6.353, "type": "quantitative", "scale": {"domain": [6, 14], "nice": false, "zero": false}, "axis": {"values": [6,6.1,6.2,6.3,6.4,6.5,6.6,6.7,6.8,6.9,7,7.1,7.2,7.3,7.4,7.5,7.6,7.7,7.8,7.9,8,8.1,8.2,8.3,8.4,8.5,8.6,8.7,8.8,8.9,9,9.1,9.2,9.3,9.4,9.5,9.6,9.7,9.8,9.9,10,10.1,10.2,10.3,10.4,10.5,10.6,10.7,10.8,10.9,11,11.1,11.2,11.3,11.4,11.5,11.6,11.7,11.8,11.9,12,12.1,12.2,12.3,12.4,12.5,12.6,12.7,12.8,12.9,13,13.1,13.2,13.3,13.4,13.5,13.6,13.7,13.8,13.9,14], "tickSize": {"condition": {"test": "abs(datum.value - round(datum.value)) < 0.001", "value": -22}, "value": -11}, "labelExpr": "abs(datum.value - round(datum.value)) < 0.001 ? '' + round(datum.value) : ''", "labelPadding": 25, "title": "Mₑₑ (GeV/c²)", "titleFontSize": 33, "titleY": 67, "titleBaseline": "alphabetic"}},
           "y": {"datum": 39.5, "type": "quantitative", "scale": {"domain": [0, 47.4], "nice": false, "zero": false}, "axis": {"values": [0,1,2,3,4,5,6,7,8,9,10,11,12,13,14,15,16,17,18,19,20,21,22,23,24,25,26,27,28,29,30,31,32,33,34,35,36,37,38,39,40,41,42,43,44,45,46,47], "tickSize": {"condition": {"test": "round(datum.value / 5) * 5 === datum.value", "value": -30}, "value": -15}, "labelExpr": "round(datum.value / 5) * 5 === datum.value ? '' + datum.value : ''", "labelPadding": 39, "title": "Counts per 200 MeV/c²", "titleFontSize": 35, "titleX": -90, "titleBaseline": "alphabetic"}}}},
        {"mark": {"type": "text", "text": "<10 GeV/c", "font": "Liberation Sans", "fontWeight": "bold", "fontSize": 28, "align": "left", "baseline": "middle", "dx": 30},
         "encoding": {"x": {"datum": 6.353, "type": "quantitative", "scale": {"domain": [6, 14], "nice": false, "zero": false}, "axis": {"values": [6,6.1,6.2,6.3,6.4,6.5,6.6,6.7,6.8,6.9,7,7.1,7.2,7.3,7.4,7.5,7.6,7.7,7.8,7.9,8,8.1,8.2,8.3,8.4,8.5,8.6,8.7,8.8,8.9,9,9.1,9.2,9.3,9.4,9.5,9.6,9.7,9.8,9.9,10,10.1,10.2,10.3,10.4,10.5,10.6,10.7,10.8,10.9,11,11.1,11.2,11.3,11.4,11.5,11.6,11.7,11.8,11.9,12,12.1,12.2,12.3,12.4,12.5,12.6,12.7,12.8,12.9,13,13.1,13.2,13.3,13.4,13.5,13.6,13.7,13.8,13.9,14], "tickSize": {"condition": {"test": "abs(datum.value - round(datum.value)) < 0.001", "value": -22}, "value": -11}, "labelExpr": "abs(datum.value - round(datum.value)) < 0.001 ? '' + round(datum.value) : ''", "labelPadding": 25, "title": "Mₑₑ (GeV/c²)", "titleFontSize": 33, "titleY": 67, "titleBaseline": "alphabetic"}},
           "y": {"datum": 39.5, "type": "quantitative", "scale": {"domain": [0, 47.4], "nice": false, "zero": false}, "axis": {"values": [0,1,2,3,4,5,6,7,8,9,10,11,12,13,14,15,16,17,18,19,20,21,22,23,24,25,26,27,28,29,30,31,32,33,34,35,36,37,38,39,40,41,42,43,44,45,46,47], "tickSize": {"condition": {"test": "round(datum.value / 5) * 5 === datum.value", "value": -30}, "value": -15}, "labelExpr": "round(datum.value / 5) * 5 === datum.value ? '' + datum.value : ''", "labelPadding": 39, "title": "Counts per 200 MeV/c²", "titleFontSize": 35, "titleX": -90, "titleBaseline": "alphabetic"}}}},
        {"mark": {"type": "text", "text": "N", "font": "Liberation Sans", "fontSize": 28, "align": "left", "baseline": "middle"},
         "encoding": {"x": {"datum": 6.353, "type": "quantitative", "scale": {"domain": [6, 14], "nice": false, "zero": false}, "axis": {"values": [6,6.1,6.2,6.3,6.4,6.5,6.6,6.7,6.8,6.9,7,7.1,7.2,7.3,7.4,7.5,7.6,7.7,7.8,7.9,8,8.1,8.2,8.3,8.4,8.5,8.6,8.7,8.8,8.9,9,9.1,9.2,9.3,9.4,9.5,9.6,9.7,9.8,9.9,10,10.1,10.2,10.3,10.4,10.5,10.6,10.7,10.8,10.9,11,11.1,11.2,11.3,11.4,11.5,11.6,11.7,11.8,11.9,12,12.1,12.2,12.3,12.4,12.5,12.6,12.7,12.8,12.9,13,13.1,13.2,13.3,13.4,13.5,13.6,13.7,13.8,13.9,14], "tickSize": {"condition": {"test": "abs(datum.value - round(datum.value)) < 0.001", "value": -22}, "value": -11}, "labelExpr": "abs(datum.value - round(datum.value)) < 0.001 ? '' + round(datum.value) : ''", "labelPadding": 25, "title": "Mₑₑ (GeV/c²)", "titleFontSize": 33, "titleY": 67, "titleBaseline": "alphabetic"}},
           "y": {"datum": 34.4, "type": "quantitative", "scale": {"domain": [0, 47.4], "nice": false, "zero": false}, "axis": {"values": [0,1,2,3,4,5,6,7,8,9,10,11,12,13,14,15,16,17,18,19,20,21,22,23,24,25,26,27,28,29,30,31,32,33,34,35,36,37,38,39,40,41,42,43,44,45,46,47], "tickSize": {"condition": {"test": "round(datum.value / 5) * 5 === datum.value", "value": -30}, "value": -15}, "labelExpr": "round(datum.value / 5) * 5 === datum.value ? '' + datum.value : ''", "labelPadding": 39, "title": "Counts per 200 MeV/c²", "titleFontSize": 35, "titleX": -90, "titleBaseline": "alphabetic"}}}},
        {"mark": {"type": "text", "text": "1S", "font": "Liberation Sans", "fontSize": 17, "align": "left", "baseline": "middle", "dx": 21, "dy": 9},
         "encoding": {"x": {"datum": 6.353, "type": "quantitative", "scale": {"domain": [6, 14], "nice": false, "zero": false}, "axis": {"values": [6,6.1,6.2,6.3,6.4,6.5,6.6,6.7,6.8,6.9,7,7.1,7.2,7.3,7.4,7.5,7.6,7.7,7.8,7.9,8,8.1,8.2,8.3,8.4,8.5,8.6,8.7,8.8,8.9,9,9.1,9.2,9.3,9.4,9.5,9.6,9.7,9.8,9.9,10,10.1,10.2,10.3,10.4,10.5,10.6,10.7,10.8,10.9,11,11.1,11.2,11.3,11.4,11.5,11.6,11.7,11.8,11.9,12,12.1,12.2,12.3,12.4,12.5,12.6,12.7,12.8,12.9,13,13.1,13.2,13.3,13.4,13.5,13.6,13.7,13.8,13.9,14], "tickSize": {"condition": {"test": "abs(datum.value - round(datum.value)) < 0.001", "value": -22}, "value": -11}, "labelExpr": "abs(datum.value - round(datum.value)) < 0.001 ? '' + round(datum.value) : ''", "labelPadding": 25, "title": "Mₑₑ (GeV/c²)", "titleFontSize": 33, "titleY": 67, "titleBaseline": "alphabetic"}},
           "y": {"datum": 34.4, "type": "quantitative", "scale": {"domain": [0, 47.4], "nice": false, "zero": false}, "axis": {"values": [0,1,2,3,4,5,6,7,8,9,10,11,12,13,14,15,16,17,18,19,20,21,22,23,24,25,26,27,28,29,30,31,32,33,34,35,36,37,38,39,40,41,42,43,44,45,46,47], "tickSize": {"condition": {"test": "round(datum.value / 5) * 5 === datum.value", "value": -30}, "value": -15}, "labelExpr": "round(datum.value / 5) * 5 === datum.value ? '' + datum.value : ''", "labelPadding": 39, "title": "Counts per 200 MeV/c²", "titleFontSize": 35, "titleX": -90, "titleBaseline": "alphabetic"}}}},
        {"mark": {"type": "text", "text": "= 63.8 ± 16.6", "font": "Liberation Sans", "fontSize": 28, "align": "left", "baseline": "middle", "dx": 50},
         "encoding": {"x": {"datum": 6.353, "type": "quantitative", "scale": {"domain": [6, 14], "nice": false, "zero": false}, "axis": {"values": [6,6.1,6.2,6.3,6.4,6.5,6.6,6.7,6.8,6.9,7,7.1,7.2,7.3,7.4,7.5,7.6,7.7,7.8,7.9,8,8.1,8.2,8.3,8.4,8.5,8.6,8.7,8.8,8.9,9,9.1,9.2,9.3,9.4,9.5,9.6,9.7,9.8,9.9,10,10.1,10.2,10.3,10.4,10.5,10.6,10.7,10.8,10.9,11,11.1,11.2,11.3,11.4,11.5,11.6,11.7,11.8,11.9,12,12.1,12.2,12.3,12.4,12.5,12.6,12.7,12.8,12.9,13,13.1,13.2,13.3,13.4,13.5,13.6,13.7,13.8,13.9,14], "tickSize": {"condition": {"test": "abs(datum.value - round(datum.value)) < 0.001", "value": -22}, "value": -11}, "labelExpr": "abs(datum.value - round(datum.value)) < 0.001 ? '' + round(datum.value) : ''", "labelPadding": 25, "title": "Mₑₑ (GeV/c²)", "titleFontSize": 33, "titleY": 67, "titleBaseline": "alphabetic"}},
           "y": {"datum": 34.4, "type": "quantitative", "scale": {"domain": [0, 47.4], "nice": false, "zero": false}, "axis": {"values": [0,1,2,3,4,5,6,7,8,9,10,11,12,13,14,15,16,17,18,19,20,21,22,23,24,25,26,27,28,29,30,31,32,33,34,35,36,37,38,39,40,41,42,43,44,45,46,47], "tickSize": {"condition": {"test": "round(datum.value / 5) * 5 === datum.value", "value": -30}, "value": -15}, "labelExpr": "round(datum.value / 5) * 5 === datum.value ? '' + datum.value : ''", "labelPadding": 39, "title": "Counts per 200 MeV/c²", "titleFontSize": 35, "titleX": -90, "titleBaseline": "alphabetic"}}}},
        {"mark": {"type": "text", "text": "N", "font": "Liberation Sans", "fontSize": 28, "align": "left", "baseline": "middle"},
         "encoding": {"x": {"datum": 6.353, "type": "quantitative", "scale": {"domain": [6, 14], "nice": false, "zero": false}, "axis": {"values": [6,6.1,6.2,6.3,6.4,6.5,6.6,6.7,6.8,6.9,7,7.1,7.2,7.3,7.4,7.5,7.6,7.7,7.8,7.9,8,8.1,8.2,8.3,8.4,8.5,8.6,8.7,8.8,8.9,9,9.1,9.2,9.3,9.4,9.5,9.6,9.7,9.8,9.9,10,10.1,10.2,10.3,10.4,10.5,10.6,10.7,10.8,10.9,11,11.1,11.2,11.3,11.4,11.5,11.6,11.7,11.8,11.9,12,12.1,12.2,12.3,12.4,12.5,12.6,12.7,12.8,12.9,13,13.1,13.2,13.3,13.4,13.5,13.6,13.7,13.8,13.9,14], "tickSize": {"condition": {"test": "abs(datum.value - round(datum.value)) < 0.001", "value": -22}, "value": -11}, "labelExpr": "abs(datum.value - round(datum.value)) < 0.001 ? '' + round(datum.value) : ''", "labelPadding": 25, "title": "Mₑₑ (GeV/c²)", "titleFontSize": 33, "titleY": 67, "titleBaseline": "alphabetic"}},
           "y": {"datum": 31.8, "type": "quantitative", "scale": {"domain": [0, 47.4], "nice": false, "zero": false}, "axis": {"values": [0,1,2,3,4,5,6,7,8,9,10,11,12,13,14,15,16,17,18,19,20,21,22,23,24,25,26,27,28,29,30,31,32,33,34,35,36,37,38,39,40,41,42,43,44,45,46,47], "tickSize": {"condition": {"test": "round(datum.value / 5) * 5 === datum.value", "value": -30}, "value": -15}, "labelExpr": "round(datum.value / 5) * 5 === datum.value ? '' + datum.value : ''", "labelPadding": 39, "title": "Counts per 200 MeV/c²", "titleFontSize": 35, "titleX": -90, "titleBaseline": "alphabetic"}}}},
        {"mark": {"type": "text", "text": "2S+3S", "font": "Liberation Sans", "fontSize": 17, "align": "left", "baseline": "middle", "dx": 21, "dy": 9},
         "encoding": {"x": {"datum": 6.353, "type": "quantitative", "scale": {"domain": [6, 14], "nice": false, "zero": false}, "axis": {"values": [6,6.1,6.2,6.3,6.4,6.5,6.6,6.7,6.8,6.9,7,7.1,7.2,7.3,7.4,7.5,7.6,7.7,7.8,7.9,8,8.1,8.2,8.3,8.4,8.5,8.6,8.7,8.8,8.9,9,9.1,9.2,9.3,9.4,9.5,9.6,9.7,9.8,9.9,10,10.1,10.2,10.3,10.4,10.5,10.6,10.7,10.8,10.9,11,11.1,11.2,11.3,11.4,11.5,11.6,11.7,11.8,11.9,12,12.1,12.2,12.3,12.4,12.5,12.6,12.7,12.8,12.9,13,13.1,13.2,13.3,13.4,13.5,13.6,13.7,13.8,13.9,14], "tickSize": {"condition": {"test": "abs(datum.value - round(datum.value)) < 0.001", "value": -22}, "value": -11}, "labelExpr": "abs(datum.value - round(datum.value)) < 0.001 ? '' + round(datum.value) : ''", "labelPadding": 25, "title": "Mₑₑ (GeV/c²)", "titleFontSize": 33, "titleY": 67, "titleBaseline": "alphabetic"}},
           "y": {"datum": 31.8, "type": "quantitative", "scale": {"domain": [0, 47.4], "nice": false, "zero": false}, "axis": {"values": [0,1,2,3,4,5,6,7,8,9,10,11,12,13,14,15,16,17,18,19,20,21,22,23,24,25,26,27,28,29,30,31,32,33,34,35,36,37,38,39,40,41,42,43,44,45,46,47], "tickSize": {"condition": {"test": "round(datum.value / 5) * 5 === datum.value", "value": -30}, "value": -15}, "labelExpr": "round(datum.value / 5) * 5 === datum.value ? '' + datum.value : ''", "labelPadding": 39, "title": "Counts per 200 MeV/c²", "titleFontSize": 35, "titleX": -90, "titleBaseline": "alphabetic"}}}},
        {"mark": {"type": "text", "text": "= 20.7 ± 15.8", "font": "Liberation Sans", "fontSize": 28, "align": "left", "baseline": "middle", "dx": 83},
         "encoding": {"x": {"datum": 6.353, "type": "quantitative", "scale": {"domain": [6, 14], "nice": false, "zero": false}, "axis": {"values": [6,6.1,6.2,6.3,6.4,6.5,6.6,6.7,6.8,6.9,7,7.1,7.2,7.3,7.4,7.5,7.6,7.7,7.8,7.9,8,8.1,8.2,8.3,8.4,8.5,8.6,8.7,8.8,8.9,9,9.1,9.2,9.3,9.4,9.5,9.6,9.7,9.8,9.9,10,10.1,10.2,10.3,10.4,10.5,10.6,10.7,10.8,10.9,11,11.1,11.2,11.3,11.4,11.5,11.6,11.7,11.8,11.9,12,12.1,12.2,12.3,12.4,12.5,12.6,12.7,12.8,12.9,13,13.1,13.2,13.3,13.4,13.5,13.6,13.7,13.8,13.9,14], "tickSize": {"condition": {"test": "abs(datum.value - round(datum.value)) < 0.001", "value": -22}, "value": -11}, "labelExpr": "abs(datum.value - round(datum.value)) < 0.001 ? '' + round(datum.value) : ''", "labelPadding": 25, "title": "Mₑₑ (GeV/c²)", "titleFontSize": 33, "titleY": 67, "titleBaseline": "alphabetic"}},
           "y": {"datum": 31.8, "type": "quantitative", "scale": {"domain": [0, 47.4], "nice": false, "zero": false}, "axis": {"values": [0,1,2,3,4,5,6,7,8,9,10,11,12,13,14,15,16,17,18,19,20,21,22,23,24,25,26,27,28,29,30,31,32,33,34,35,36,37,38,39,40,41,42,43,44,45,46,47], "tickSize": {"condition": {"test": "round(datum.value / 5) * 5 === datum.value", "value": -30}, "value": -15}, "labelExpr": "round(datum.value / 5) * 5 === datum.value ? '' + datum.value : ''", "labelPadding": 39, "title": "Counts per 200 MeV/c²", "titleFontSize": 35, "titleX": -90, "titleBaseline": "alphabetic"}}}},
        {"mark": {"type": "text", "text": "S", "font": "Liberation Serif", "fontWeight": "bold", "fontSize": 34, "align": "center", "baseline": "middle"},
         "encoding": {"x": {"datum": 5.01, "type": "quantitative", "scale": {"domain": [6, 14], "nice": false, "zero": false}, "axis": {"values": [6,6.1,6.2,6.3,6.4,6.5,6.6,6.7,6.8,6.9,7,7.1,7.2,7.3,7.4,7.5,7.6,7.7,7.8,7.9,8,8.1,8.2,8.3,8.4,8.5,8.6,8.7,8.8,8.9,9,9.1,9.2,9.3,9.4,9.5,9.6,9.7,9.8,9.9,10,10.1,10.2,10.3,10.4,10.5,10.6,10.7,10.8,10.9,11,11.1,11.2,11.3,11.4,11.5,11.6,11.7,11.8,11.9,12,12.1,12.2,12.3,12.4,12.5,12.6,12.7,12.8,12.9,13,13.1,13.2,13.3,13.4,13.5,13.6,13.7,13.8,13.9,14], "tickSize": {"condition": {"test": "abs(datum.value - round(datum.value)) < 0.001", "value": -22}, "value": -11}, "labelExpr": "abs(datum.value - round(datum.value)) < 0.001 ? '' + round(datum.value) : ''", "labelPadding": 25, "title": "Mₑₑ (GeV/c²)", "titleFontSize": 33, "titleY": 67, "titleBaseline": "alphabetic"}},
           "y": {"datum": 7.2, "type": "quantitative", "scale": {"domain": [0, 47.4], "nice": false, "zero": false}, "axis": {"values": [0,1,2,3,4,5,6,7,8,9,10,11,12,13,14,15,16,17,18,19,20,21,22,23,24,25,26,27,28,29,30,31,32,33,34,35,36,37,38,39,40,41,42,43,44,45,46,47], "tickSize": {"condition": {"test": "round(datum.value / 5) * 5 === datum.value", "value": -30}, "value": -15}, "labelExpr": "round(datum.value / 5) * 5 === datum.value ? '' + datum.value : ''", "labelPadding": 39, "title": "Counts per 200 MeV/c²", "titleFontSize": 35, "titleX": -90, "titleBaseline": "alphabetic"}}}},
        {"mark": {"type": "text", "text": "17", "font": "Liberation Serif", "fontSize": 32, "color": "#888888", "align": "center", "baseline": "middle"},
         "encoding": {"x": {"datum": 13.57, "type": "quantitative", "scale": {"domain": [6, 14], "nice": false, "zero": false}, "axis": {"values": [6,6.1,6.2,6.3,6.4,6.5,6.6,6.7,6.8,6.9,7,7.1,7.2,7.3,7.4,7.5,7.6,7.7,7.8,7.9,8,8.1,8.2,8.3,8.4,8.5,8.6,8.7,8.8,8.9,9,9.1,9.2,9.3,9.4,9.5,9.6,9.7,9.8,9.9,10,10.1,10.2,10.3,10.4,10.5,10.6,10.7,10.8,10.9,11,11.1,11.2,11.3,11.4,11.5,11.6,11.7,11.8,11.9,12,12.1,12.2,12.3,12.4,12.5,12.6,12.7,12.8,12.9,13,13.1,13.2,13.3,13.4,13.5,13.6,13.7,13.8,13.9,14], "tickSize": {"condition": {"test": "abs(datum.value - round(datum.value)) < 0.001", "value": -22}, "value": -11}, "labelExpr": "abs(datum.value - round(datum.value)) < 0.001 ? '' + round(datum.value) : ''", "labelPadding": 25, "title": "Mₑₑ (GeV/c²)", "titleFontSize": 33, "titleY": 67, "titleBaseline": "alphabetic"}},
           "y": {"datum": -1.6, "type": "quantitative", "scale": {"domain": [0, 47.4], "nice": false, "zero": false}, "axis": {"values": [0,1,2,3,4,5,6,7,8,9,10,11,12,13,14,15,16,17,18,19,20,21,22,23,24,25,26,27,28,29,30,31,32,33,34,35,36,37,38,39,40,41,42,43,44,45,46,47], "tickSize": {"condition": {"test": "round(datum.value / 5) * 5 === datum.value", "value": -30}, "value": -15}, "labelExpr": "round(datum.value / 5) * 5 === datum.value ? '' + datum.value : ''", "labelPadding": 39, "title": "Counts per 200 MeV/c²", "titleFontSize": 35, "titleX": -90, "titleBaseline": "alphabetic"}}}}
      ]
    }
  ]
}
